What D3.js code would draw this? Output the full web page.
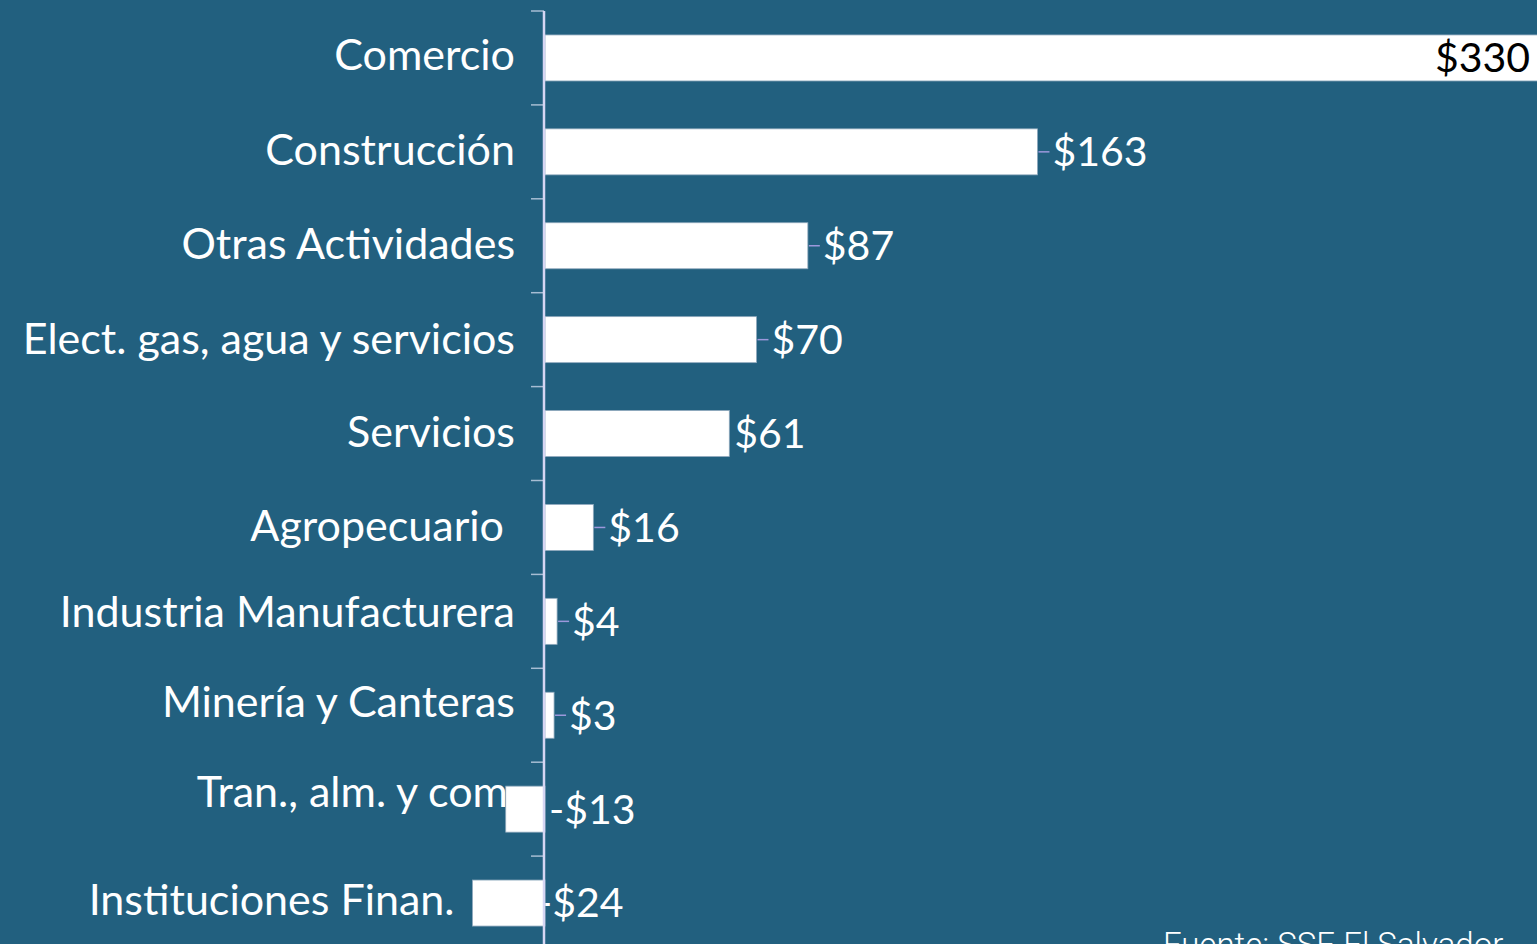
<!DOCTYPE html>
<html>
<head>
<meta charset="utf-8">
<script src="https://cdn.jsdelivr.net/npm/d3@7"></script>
<style>
  body { margin: 0; background: #22607f; overflow: hidden; }
  svg { display: block; }
</style>
</head>
<body>
<svg id="chart"></svg>
<script>
// Sector bars: white bars on a teal background

let categories = [
  "Comercio", "Construcción", "Otras Actividades",
  "Elect. gas, agua y servicios", "Servicios", "Agropecuario",
  "Industria Manufacturera", "Minería y Canteras",
  "Tran., alm. y com", "Instituciones Finan."];
let values = [330, 163, 87, 70, 61, 16, 4, 3, -13, -24];
let valueLabels = ["$330", "$163", "$87", "$70", "$61", "$16", "$4", "$3", "-$13", "-$24"];
let sourceText = "Fuente: SSE El Salvador";

// The category labels were nudged by hand in the original (pixels, vertical).
let labelNudge = [-3, -2, -2, -1, -2, -2, -9, -13, -17, -3];

function drawChart(){
  let width = 1537;
  let height = 944;
  let svg = d3.select('#chart')
    .attr("width", width)
    .attr("height", height);

  // Zero sits just right of the axis line, Comercio runs off the edge.
  let xScale = d3.scaleLinear()
    .domain([0, 330])
    .range([545, 1542]);
  let yScale = d3.scaleBand()
    .domain(categories)
    .range([11, 950])
    .paddingInner(0.51)
    .paddingOuter(0.255);
  let gap = yScale.step() * 0.51 / 2;
  let mid = c => yScale(c) + yScale.bandwidth() / 2;

  // Ticks between the categories.
  let tickYs = categories.map(c => yScale(c) - gap);
  tickYs.push(yScale(categories[categories.length - 1]) + yScale.bandwidth() + gap);
  svg.append('g')
    .selectAll('line')
    .data(tickYs)
    .join('line')
    .attr("x1", 531).attr("x2", 544)
    .attr("y1", d => d).attr("y2", d => d)
    .attr("stroke", "#a7bdd3")
    .attr("stroke-width", 1.5);

  let rows = categories.map((c, i) => ({cat: c, value: values[i], label: valueLabels[i], nudge: labelNudge[i]}));

  // Category labels, left of the bars.
  let catX = function(d){
    if (d.value < -20) return xScale(d.value) - 18;
    if (d.cat == "Agropecuario") return 504;
    if (d.cat.startsWith("Tran.")) return 508;
    return 515;
  };
  svg.append('g')
    .selectAll('text')
    .data(rows)
    .join('text')
    .attr("x", catX)
    .attr("y", d => mid(d.cat) + d.nudge)
    .attr("dy", "0.35em")
    .attr("text-anchor", "end")
    .attr("fill", "white")
    .style("font-family", "Lato, 'Open Sans', sans-serif")
    .style("font-size", "43px")
    .text(d => d.cat);

  // Value labels with small leader lines (drawn under the bars).
  let outside = rows.filter(d => d.value < 300);
  let labelX = function(d){
    if (d.value < -20) return xScale(0) - 8;
    if (d.value < 0) return xScale(0) + 4;
    if (d.cat == "Servicios") return xScale(d.value) + 5;
    return xScale(d.value) + 15;
  };
  svg.append('g')
    .selectAll('line')
    .data(outside.filter(d => d.value > 0 && d.cat != "Servicios"))
    .join('line')
    .attr("x1", d => xScale(d.value) + 1)
    .attr("x2", d => labelX(d) - 3)
    .attr("y1", d => mid(d.cat))
    .attr("y2", d => mid(d.cat))
    .attr("stroke", "#9c98dc")
    .attr("stroke-width", 1.5);
  svg.append('g')
    .selectAll('text')
    .data(outside)
    .join('text')
    .attr("x", labelX)
    .attr("y", d => mid(d.cat))
    .attr("dy", "0.35em")
    .attr("fill", "white")
    .style("font-family", "Lato, 'Open Sans', sans-serif")
    .style("font-size", "41px")
    .text(d => d.label);

  // Bars.
  svg.append('g')
    .selectAll('rect')
    .data(rows)
    .join('rect')
    .attr("x", d => xScale(Math.min(0, d.value)))
    .attr("y", d => yScale(d.cat))
    .attr("width", d => Math.abs(xScale(d.value) - xScale(0)))
    .attr("height", yScale.bandwidth())
    .attr("fill", "white")
    .attr("stroke", "#8fa9bd")
    .attr("stroke-width", 0.8);

  // Axis line.
  svg.append('line')
    .attr("x1", 544).attr("x2", 544)
    .attr("y1", 11).attr("y2", height)
    .attr("stroke", "#d6d6f4")
    .attr("stroke-width", 2.5);

  // Big value inside the Comercio bar.
  let top = rows[0];
  svg.append('text')
    .attr("x", 1530)
    .attr("y", mid(top.cat))
    .attr("dy", "0.35em")
    .attr("text-anchor", "end")
    .attr("fill", "black")
    .style("font-family", "Lato, 'Open Sans', sans-serif")
    .style("font-size", "41px")
    .text(top.label);

  // Source note, partly below the frame.
  svg.append('text')
    .attr("x", 1163)
    .attr("y", 956)
    .attr("fill", "white")
    .style("font-family", "Roboto, sans-serif")
    .style("font-weight", 300)
    .style("font-size", "33px")
    .text(sourceText);
}

drawChart();
</script>
</body>
</html>
